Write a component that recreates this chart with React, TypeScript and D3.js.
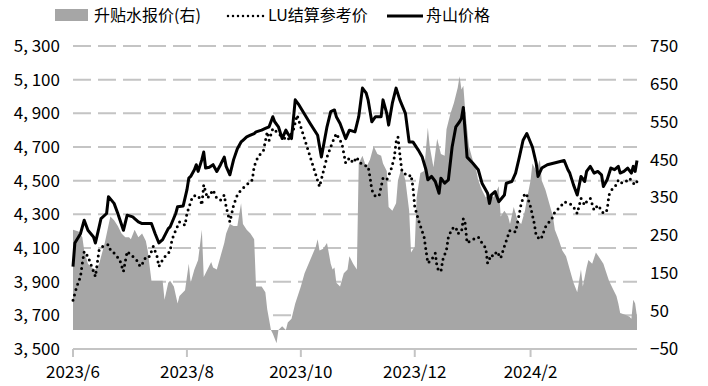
import { useEffect, useRef } from "react";
import * as d3 from "d3";

// 舟山价格 (left axis)
const zhoushanPrice: [string, number][] = [
  ["2023-06-01", 3990], ["2023-06-02", 4130], ["2023-06-05", 4185], ["2023-06-07", 4265],
  ["2023-06-09", 4205], ["2023-06-12", 4165], ["2023-06-13", 4130], ["2023-06-15", 4225],
  ["2023-06-16", 4275], ["2023-06-19", 4305], ["2023-06-20", 4405], ["2023-06-23", 4365],
  ["2023-06-25", 4305], ["2023-06-28", 4205], ["2023-06-30", 4295], ["2023-07-03", 4285],
  ["2023-07-04", 4275], ["2023-07-06", 4255], ["2023-07-08", 4245], ["2023-07-13", 4245],
  ["2023-07-15", 4185], ["2023-07-17", 4130], ["2023-07-19", 4150], ["2023-07-22", 4215],
  ["2023-07-23", 4225], ["2023-07-26", 4305], ["2023-07-27", 4345], ["2023-07-30", 4350],
  ["2023-08-01", 4445], ["2023-08-02", 4515], ["2023-08-03", 4525], ["2023-08-05", 4565],
  ["2023-08-06", 4595], ["2023-08-07", 4555], ["2023-08-09", 4625], ["2023-08-10", 4670],
  ["2023-08-11", 4575], ["2023-08-13", 4580], ["2023-08-15", 4595], ["2023-08-17", 4555],
  ["2023-08-19", 4595], ["2023-08-21", 4640], ["2023-08-22", 4585], ["2023-08-24", 4535],
  ["2023-08-26", 4625], ["2023-08-28", 4690], ["2023-08-30", 4730], ["2023-08-31", 4740],
  ["2023-09-02", 4760], ["2023-09-04", 4770], ["2023-09-06", 4780], ["2023-09-07", 4790],
  ["2023-09-10", 4800], ["2023-09-12", 4810], ["2023-09-14", 4820], ["2023-09-16", 4880],
  ["2023-09-17", 4850], ["2023-09-19", 4820], ["2023-09-21", 4750], ["2023-09-23", 4800],
  ["2023-09-24", 4780], ["2023-09-26", 4750], ["2023-09-28", 4980], ["2023-09-30", 4950],
  ["2023-10-06", 4840], ["2023-10-10", 4770], ["2023-10-12", 4640], ["2023-10-13", 4700],
  ["2023-10-15", 4820], ["2023-10-17", 4910], ["2023-10-19", 4920], ["2023-10-20", 4880],
  ["2023-10-22", 4840], ["2023-10-25", 4750], ["2023-10-27", 4800], ["2023-10-30", 4790],
  ["2023-11-01", 4880], ["2023-11-03", 5050], ["2023-11-05", 5020], ["2023-11-06", 4980],
  ["2023-11-08", 4850], ["2023-11-10", 4880], ["2023-11-13", 4880], ["2023-11-14", 4980],
  ["2023-11-16", 4900], ["2023-11-17", 4830], ["2023-11-19", 4960], ["2023-11-21", 5050],
  ["2023-11-23", 4980], ["2023-11-26", 4900], ["2023-11-28", 4730], ["2023-11-30", 4730],
  ["2023-12-03", 4680], ["2023-12-05", 4640], ["2023-12-07", 4565], ["2023-12-08", 4505],
  ["2023-12-10", 4525], ["2023-12-12", 4495], ["2023-12-14", 4425], ["2023-12-15", 4515],
  ["2023-12-17", 4485], ["2023-12-19", 4505], ["2023-12-21", 4700], ["2023-12-23", 4820],
  ["2023-12-25", 4850], ["2023-12-26", 4870], ["2023-12-27", 4935], ["2023-12-29", 4640],
  ["2024-01-01", 4605], ["2024-01-04", 4565], ["2024-01-06", 4485], ["2024-01-09", 4425],
  ["2024-01-10", 4365], ["2024-01-11", 4415], ["2024-01-13", 4435], ["2024-01-15", 4375],
  ["2024-01-18", 4415], ["2024-01-19", 4485], ["2024-01-22", 4495], ["2024-01-24", 4545],
  ["2024-01-26", 4640], ["2024-01-28", 4740], ["2024-01-30", 4780], ["2024-02-02", 4700],
  ["2024-02-04", 4605], ["2024-02-05", 4525], ["2024-02-07", 4575], ["2024-02-10", 4595],
  ["2024-02-19", 4620], ["2024-02-21", 4565], ["2024-02-22", 4545], ["2024-02-24", 4475],
  ["2024-02-26", 4415], ["2024-02-28", 4525], ["2024-03-01", 4495], ["2024-03-02", 4555],
  ["2024-03-04", 4585], ["2024-03-06", 4545], ["2024-03-08", 4555], ["2024-03-10", 4535],
  ["2024-03-11", 4465], ["2024-03-13", 4505], ["2024-03-15", 4575], ["2024-03-17", 4565],
  ["2024-03-19", 4585], ["2024-03-20", 4545], ["2024-03-22", 4555], ["2024-03-24", 4575],
  ["2024-03-26", 4545], ["2024-03-27", 4585], ["2024-03-28", 4555], ["2024-03-29", 4620],
];

// LU结算参考价 (left axis)
const luSettle: [string, number][] = [
  ["2023-06-01", 3790], ["2023-06-03", 3870], ["2023-06-05", 3930], ["2023-06-06", 4010],
  ["2023-06-07", 4080], ["2023-06-09", 4050], ["2023-06-11", 3990], ["2023-06-13", 3930],
  ["2023-06-14", 4010], ["2023-06-15", 4090], ["2023-06-17", 4110], ["2023-06-20", 4120],
  ["2023-06-21", 4090], ["2023-06-23", 4070], ["2023-06-26", 4030], ["2023-06-28", 3960],
  ["2023-06-30", 4080], ["2023-07-02", 4060], ["2023-07-05", 4030], ["2023-07-07", 3990],
  ["2023-07-09", 4020], ["2023-07-10", 4050], ["2023-07-12", 4050], ["2023-07-14", 4110],
  ["2023-07-16", 4050], ["2023-07-17", 3990], ["2023-07-19", 4030], ["2023-07-21", 4060],
  ["2023-07-23", 4080], ["2023-07-24", 4150], ["2023-07-26", 4205], ["2023-07-28", 4255],
  ["2023-07-31", 4235], ["2023-08-01", 4305], ["2023-08-04", 4405], ["2023-08-06", 4415],
  ["2023-08-08", 4395], ["2023-08-09", 4355], ["2023-08-10", 4475], ["2023-08-12", 4395],
  ["2023-08-15", 4445], ["2023-08-17", 4395], ["2023-08-19", 4385], ["2023-08-21", 4415],
  ["2023-08-22", 4345], ["2023-08-24", 4255], ["2023-08-26", 4355], ["2023-08-28", 4415],
  ["2023-08-30", 4445], ["2023-09-02", 4475], ["2023-09-05", 4505], ["2023-09-06", 4585],
  ["2023-09-08", 4640], ["2023-09-11", 4680], ["2023-09-13", 4790], ["2023-09-14", 4740],
  ["2023-09-16", 4810], ["2023-09-20", 4770], ["2023-09-24", 4740], ["2023-09-27", 4800],
  ["2023-09-29", 4890], ["2023-10-11", 4465], ["2023-10-15", 4640], ["2023-10-18", 4730],
  ["2023-10-20", 4780], ["2023-10-23", 4720], ["2023-10-25", 4605], ["2023-10-27", 4635],
  ["2023-10-29", 4605], ["2023-10-31", 4640], ["2023-11-01", 4615], ["2023-11-03", 4595],
  ["2023-11-06", 4585], ["2023-11-07", 4525], ["2023-11-08", 4445], ["2023-11-10", 4405],
  ["2023-11-12", 4415], ["2023-11-13", 4465], ["2023-11-14", 4515], ["2023-11-16", 4505],
  ["2023-11-18", 4555], ["2023-11-20", 4635], ["2023-11-21", 4730], ["2023-11-22", 4760],
  ["2023-11-23", 4660], ["2023-11-24", 4565], ["2023-11-25", 4545], ["2023-11-28", 4525],
  ["2023-11-29", 4535], ["2023-11-30", 4465], ["2023-12-01", 4345], ["2023-12-03", 4265],
  ["2023-12-06", 4165], ["2023-12-08", 4010], ["2023-12-10", 4030], ["2023-12-12", 4070],
  ["2023-12-13", 3980], ["2023-12-15", 3960], ["2023-12-16", 4030], ["2023-12-18", 4090],
  ["2023-12-19", 4165], ["2023-12-21", 4215], ["2023-12-23", 4225], ["2023-12-24", 4185],
  ["2023-12-26", 4195], ["2023-12-27", 4275], ["2023-12-28", 4245], ["2023-12-29", 4130],
  ["2024-01-01", 4150], ["2024-01-04", 4165], ["2024-01-06", 4130], ["2024-01-08", 4100],
  ["2024-01-09", 4010], ["2024-01-11", 4060], ["2024-01-12", 4050], ["2024-01-14", 4080],
  ["2024-01-16", 4040], ["2024-01-18", 4110], ["2024-01-20", 4175], ["2024-01-21", 4205],
  ["2024-01-24", 4195], ["2024-01-26", 4305], ["2024-01-27", 4365], ["2024-01-29", 4425],
  ["2024-01-30", 4415], ["2024-02-01", 4345], ["2024-02-03", 4245], ["2024-02-04", 4175],
  ["2024-02-06", 4150], ["2024-02-07", 4165], ["2024-02-09", 4225], ["2024-02-11", 4255],
  ["2024-02-13", 4285], ["2024-02-14", 4315], ["2024-02-17", 4345], ["2024-02-19", 4375],
  ["2024-02-22", 4365], ["2024-02-24", 4345], ["2024-02-26", 4305], ["2024-02-28", 4395],
  ["2024-03-01", 4355], ["2024-03-02", 4375], ["2024-03-04", 4395], ["2024-03-06", 4325],
  ["2024-03-08", 4355], ["2024-03-10", 4325], ["2024-03-11", 4305], ["2024-03-13", 4325],
  ["2024-03-14", 4415], ["2024-03-16", 4455], ["2024-03-18", 4475], ["2024-03-19", 4505],
  ["2024-03-21", 4485], ["2024-03-23", 4495], ["2024-03-25", 4515], ["2024-03-27", 4485],
  ["2024-03-28", 4475], ["2024-03-29", 4495],
];

// 升贴水报价 (right axis)
const premium: [string, number][] = [
  ["2023-06-01", 265], ["2023-06-04", 260], ["2023-06-06", 245], ["2023-06-07", 210],
  ["2023-06-09", 175], ["2023-06-11", 165], ["2023-06-13", 160], ["2023-06-15", 175],
  ["2023-06-18", 230], ["2023-06-21", 300], ["2023-06-23", 290], ["2023-06-25", 275],
  ["2023-06-27", 255], ["2023-06-29", 245], ["2023-07-01", 245], ["2023-07-02", 240],
  ["2023-07-04", 265], ["2023-07-06", 245], ["2023-07-08", 255], ["2023-07-10", 235],
  ["2023-07-11", 210], ["2023-07-13", 130], ["2023-07-17", 130], ["2023-07-19", 130],
  ["2023-07-20", 80], ["2023-07-22", 125], ["2023-07-23", 130], ["2023-07-25", 115],
  ["2023-07-27", 70], ["2023-07-28", 90], ["2023-07-31", 105], ["2023-08-02", 175],
  ["2023-08-03", 125], ["2023-08-05", 160], ["2023-08-07", 185], ["2023-08-09", 265],
  ["2023-08-10", 140], ["2023-08-12", 160], ["2023-08-14", 180], ["2023-08-15", 165],
  ["2023-08-17", 160], ["2023-08-19", 195], ["2023-08-21", 230], ["2023-08-22", 255],
  ["2023-08-24", 280], ["2023-08-26", 275], ["2023-08-28", 275], ["2023-08-30", 335],
  ["2023-08-31", 280], ["2023-09-02", 265], ["2023-09-04", 255], ["2023-09-06", 240],
  ["2023-09-07", 115], ["2023-09-10", 115], ["2023-09-12", 100], ["2023-09-13", 55],
  ["2023-09-15", 0], ["2023-09-16", -10], ["2023-09-18", -35], ["2023-09-19", 0],
  ["2023-09-21", 10], ["2023-09-23", 0], ["2023-09-24", 20], ["2023-09-26", 30],
  ["2023-09-28", 70], ["2023-10-01", 115], ["2023-10-03", 150], ["2023-10-06", 185],
  ["2023-10-09", 220], ["2023-10-10", 240], ["2023-10-11", 210], ["2023-10-13", 215],
  ["2023-10-15", 230], ["2023-10-17", 175], ["2023-10-18", 160], ["2023-10-19", 165],
  ["2023-10-20", 125], ["2023-10-22", 115], ["2023-10-24", 150], ["2023-10-26", 160],
  ["2023-10-27", 195], ["2023-10-29", 175], ["2023-10-31", 160], ["2023-11-01", 440],
  ["2023-11-03", 460], ["2023-11-05", 430], ["2023-11-07", 450], ["2023-11-09", 485],
  ["2023-11-11", 465], ["2023-11-13", 460], ["2023-11-14", 440], ["2023-11-16", 420],
  ["2023-11-17", 325], ["2023-11-19", 315], ["2023-11-21", 335], ["2023-11-22", 395],
  ["2023-11-24", 430], ["2023-11-26", 395], ["2023-11-28", 315], ["2023-11-29", 205],
  ["2023-12-01", 220], ["2023-12-02", 350], ["2023-12-04", 415], ["2023-12-06", 420],
  ["2023-12-08", 535], ["2023-12-09", 485], ["2023-12-11", 430], ["2023-12-13", 505],
  ["2023-12-15", 465], ["2023-12-17", 460], ["2023-12-18", 530], ["2023-12-20", 570],
  ["2023-12-22", 600], ["2023-12-24", 640], ["2023-12-25", 670], ["2023-12-26", 635],
  ["2023-12-27", 645], ["2023-12-28", 580], ["2023-12-30", 485], ["2024-01-01", 450],
  ["2024-01-03", 420], ["2024-01-04", 395], ["2024-01-06", 370], ["2024-01-08", 350],
  ["2024-01-10", 360], ["2024-01-12", 350], ["2024-01-13", 360], ["2024-01-15", 380],
  ["2024-01-16", 300], ["2024-01-18", 315], ["2024-01-20", 300], ["2024-01-21", 280],
  ["2024-01-23", 325], ["2024-01-25", 290], ["2024-01-27", 280], ["2024-01-29", 315],
  ["2024-01-30", 345], ["2024-02-01", 395], ["2024-02-02", 440], ["2024-02-04", 420],
  ["2024-02-06", 450], ["2024-02-07", 395], ["2024-02-09", 370], ["2024-02-11", 335],
  ["2024-02-13", 300], ["2024-02-14", 265], ["2024-02-16", 240], ["2024-02-18", 210],
  ["2024-02-20", 195], ["2024-02-22", 160], ["2024-02-24", 125], ["2024-02-26", 100],
  ["2024-02-28", 160], ["2024-02-29", 115], ["2024-03-02", 165], ["2024-03-03", 185],
  ["2024-03-05", 175], ["2024-03-07", 205], ["2024-03-09", 190], ["2024-03-11", 175],
  ["2024-03-12", 160], ["2024-03-14", 130], ["2024-03-16", 110], ["2024-03-18", 90],
  ["2024-03-19", 70], ["2024-03-20", 45], ["2024-03-23", 40], ["2024-03-25", 35],
  ["2024-03-26", 30], ["2024-03-27", 80], ["2024-03-28", 70], ["2024-03-29", 35],
];

const leftTicks = [3500, 3700, 3900, 4100, 4300, 4500, 4700, 4900, 5100, 5300];
const rightTicks = [-50, 50, 150, 250, 350, 450, 550, 650, 750];
const xTicks = ["2023-06-01", "2023-08-01", "2023-10-01", "2023-12-01", "2024-02-01"];
const legendNames = ["升贴水报价(右)", "LU结算参考价", "舟山价格"];

const FONT = "'Noto Sans CJK SC', 'Noto Sans', sans-serif";

export default function App() {
  const svgRef = useRef<SVGSVGElement | null>(null);
  const width = 708;
  const height = 386;

  useEffect(() => {
    if (!svgRef.current) return;
    const svg = d3.select(svgRef.current);
    svg.selectAll("*").remove();

    const parse = d3.timeParse("%Y-%m-%d");
    const left = 73, right = 637, top = 46, bottom = 349;

    const x = d3
      .scaleTime()
      .domain([parse("2023-06-01")!, parse("2024-03-29")!])
      .range([left, right]);
    const yL = d3.scaleLinear().domain([3500, 5300]).range([bottom, top]);
    const yR = d3.scaleLinear().domain([-50, 750]).range([bottom, top]);

    // gridlines
    svg
      .append("g")
      .selectAll("line")
      .data(leftTicks.slice(1))
      .enter()
      .append("line")
      .attr("x1", left)
      .attr("x2", right)
      .attr("y1", (d) => yL(d))
      .attr("y2", (d) => yL(d))
      .attr("stroke", "#c4c4c4")
      .attr("stroke-width", 2)
      .attr("stroke-dasharray", "18,7");

    // premium area
    const area = d3
      .area<[string, number]>()
      .x((d) => x(parse(d[0])!))
      .y0(yR(0))
      .y1((d) => yR(d[1]));
    svg.append("path").datum(premium).attr("d", area).attr("fill", "#a6a6a6");

    // x axis
    svg
      .append("line")
      .attr("x1", left)
      .attr("x2", right)
      .attr("y1", bottom)
      .attr("y2", bottom)
      .attr("stroke", "#c4c4c4")
      .attr("stroke-width", 2);
    const xg = svg.append("g");
    xg.selectAll("line")
      .data(xTicks)
      .enter()
      .append("line")
      .attr("x1", (d) => x(parse(d)!))
      .attr("x2", (d) => x(parse(d)!))
      .attr("y1", bottom)
      .attr("y2", bottom + 8)
      .attr("stroke", "#c4c4c4")
      .attr("stroke-width", 2);
    xg.selectAll("text")
      .data(xTicks)
      .enter()
      .append("text")
      .attr("x", (d) => x(parse(d)!))
      .attr("y", 378)
      .attr("text-anchor", "middle")
      .attr("font-family", FONT)
      .attr("font-size", 17)
      .text((d) => d3.timeFormat("%Y/%-m")(parse(d)!));

    // lines
    const line = d3
      .line<[string, number]>()
      .x((d) => x(parse(d[0])!))
      .y((d) => yL(d[1]));
    svg
      .append("path")
      .datum(luSettle)
      .attr("d", line)
      .attr("fill", "none")
      .attr("stroke", "#000")
      .attr("stroke-width", 3)
      .attr("stroke-linecap", "round")
      .attr("stroke-dasharray", "0,5.5");
    svg
      .append("path")
      .datum(zhoushanPrice)
      .attr("d", line)
      .attr("fill", "none")
      .attr("stroke", "#000")
      .attr("stroke-width", 3)
      .attr("stroke-linejoin", "round");

    // y labels
    svg
      .append("g")
      .selectAll("text")
      .data(leftTicks)
      .enter()
      .append("text")
      .attr("x", 60)
      .attr("y", (d) => yL(d))
      .attr("dy", "0.35em")
      .attr("text-anchor", "end")
      .attr("font-family", FONT)
      .attr("font-size", 17)
      .text((d) => d3.format(",")(d).replace(",", ", "));
    svg
      .append("g")
      .selectAll("text")
      .data(rightTicks)
      .enter()
      .append("text")
      .attr("x", 650)
      .attr("y", (d) => yR(d))
      .attr("dy", "0.35em")
      .attr("font-family", FONT)
      .attr("font-size", 17)
      .text((d) => (d < 0 ? "\u2212" + Math.abs(d) : String(d)));

    // legend
    const lg = svg.append("g").attr("font-family", FONT).attr("font-size", 16);
    lg.append("rect").attr("x", 55).attr("y", 9).attr("width", 33).attr("height", 12).attr("fill", "#a6a6a6");
    lg.append("text").attr("x", 94).attr("y", 21).text(legendNames[0]);
    lg.append("line")
      .attr("x1", 228).attr("x2", 265).attr("y1", 16).attr("y2", 16)
      .attr("stroke", "#000").attr("stroke-width", 2.5)
      .attr("stroke-linecap", "round").attr("stroke-dasharray", "0,5");
    lg.append("text").attr("x", 268).attr("y", 21).text(legendNames[1]);
    lg.append("line")
      .attr("x1", 387).attr("x2", 423).attr("y1", 16).attr("y2", 16)
      .attr("stroke", "#000").attr("stroke-width", 3);
    lg.append("text").attr("x", 426).attr("y", 21).text(legendNames[2]);
  }, []);

  return (
    <svg
      ref={svgRef}
      width={width}
      height={height}
      style={{ position: "absolute", left: 0, top: 0, background: "#fff" }}
    ></svg>
  );
}
